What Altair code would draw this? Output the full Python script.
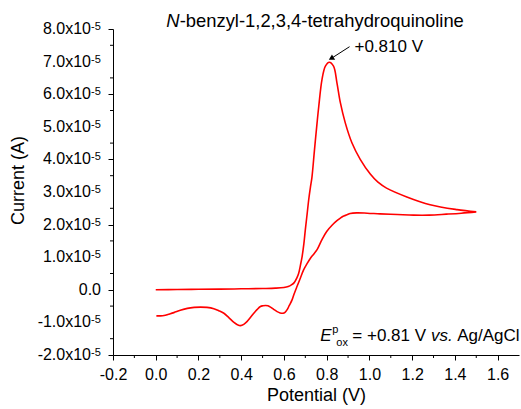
import altair as alt
import pandas as pd

# ---- cyclic voltammogram (V vs Ag/AgCl, current in units of 1e-5 A) ----
fwd_v = [0.00, 0.10, 0.20, 0.30, 0.40, 0.50, 0.56, 0.60, 0.62, 0.635, 0.648, 0.66, 0.669,
         0.677, 0.685, 0.693, 0.70, 0.708, 0.716, 0.724, 0.731, 0.743, 0.755, 0.763, 0.778,
         0.794, 0.812, 0.832, 0.848, 0.864, 0.887, 0.918, 0.957, 1.004, 1.04, 1.08, 1.175,
         1.284, 1.41, 1.50]
fwd_i = [0.00, 0.01, 0.015, 0.02, 0.03, 0.04, 0.05, 0.07, 0.10, 0.15, 0.22, 0.36, 0.51,
         0.75, 1.02, 1.40, 1.84, 2.30, 2.77, 3.15, 3.45, 4.30, 5.12, 5.63, 6.45,
         6.86, 6.98, 6.86, 6.35, 5.74, 5.12, 4.51, 4.00, 3.55, 3.30, 3.12, 2.85,
         2.61, 2.46, 2.39]
rev_v = [1.50, 1.43, 1.36, 1.28, 1.206, 1.13, 1.05, 0.99, 0.94, 0.91, 0.895, 0.875, 0.864,
         0.848, 0.825, 0.80, 0.778, 0.755, 0.74, 0.724, 0.708, 0.692, 0.677, 0.661, 0.648,
         0.638, 0.625, 0.615, 0.605, 0.596, 0.582, 0.568, 0.552, 0.537, 0.525, 0.514, 0.502,
         0.49, 0.475, 0.459, 0.443, 0.428, 0.412, 0.397, 0.382, 0.366, 0.343, 0.319, 0.295,
         0.272, 0.24, 0.21, 0.18, 0.148, 0.115, 0.085, 0.06, 0.039, 0.02, 0.003]
rev_i = [2.39, 2.35, 2.32, 2.29, 2.29, 2.31, 2.33, 2.35, 2.36, 2.34, 2.30, 2.25, 2.20,
         2.12, 1.98, 1.79, 1.54, 1.23, 1.10, 0.97, 0.80, 0.61, 0.36, 0.10, -0.12,
         -0.31, -0.48, -0.61, -0.69, -0.72, -0.71, -0.67, -0.60, -0.53, -0.49, -0.48, -0.49,
         -0.51, -0.60, -0.72, -0.85, -0.97, -1.06, -1.10, -1.07, -1.00, -0.86, -0.72, -0.64,
         -0.58, -0.54, -0.53, -0.54, -0.57, -0.63, -0.70, -0.75, -0.79, -0.80, -0.80]

# ---- axes ----
x_major = [-0.2, 0.0, 0.2, 0.4, 0.6, 0.8, 1.0, 1.2, 1.4, 1.6]
x_minor = [-0.1, 0.1, 0.3, 0.5, 0.7, 0.9, 1.1, 1.3, 1.5]
y_major = [-2, -1, 0, 1, 2, 3, 4, 5, 6, 7, 8]          # x 1e-5 A
y_minor = [-1.5, -0.5, 0.5, 1.5, 2.5, 3.5, 4.5, 5.5, 6.5, 7.5]
y_main_labels = ["-2.0x10", "-1.0x10", "0.0", "1.0x10", "2.0x10", "3.0x10",
                 "4.0x10", "5.0x10", "6.0x10", "7.0x10", "8.0x10"]
y_sup_labels = ["-5", "-5", "", "-5", "-5", "-5", "-5", "-5", "-5", "-5", "-5"]

# ---- annotations ----
title_main = "-benzyl-1,2,3,4-tetrahydroquinoline"
title_italic = "N"
peak_label = "+0.810 V"

FONT = "Liberation Sans"
W, H = 406, 326
E5 = 1e-5

xs = alt.Scale(domain=[-0.2, 1.7], nice=False, zero=False)
ys = alt.Scale(domain=[-2 * E5, 8 * E5], nice=False, zero=False)


def X(field):
    return alt.X(field, scale=xs)


def Y(field):
    return alt.Y(field, scale=ys)


cv = pd.DataFrame({
    "V": fwd_v + rev_v,
    "I": [i * E5 for i in fwd_i + rev_i],
    "k": list(range(len(fwd_v) + len(rev_v))),
})

line = alt.Chart(cv).mark_line(color="#ff0000", strokeWidth=1.6, interpolate="catmull-rom").encode(
    x=alt.X("V:Q", scale=xs, axis=alt.Axis(
        values=x_major,
        labelExpr="(datum.value < -1e-9 ? '-' : '') + format(abs(datum.value), '.1f')",
        labelFont=FONT, labelFontSize=16, labelColor="black", labelPadding=6,
        labelFlush=False, labelOverlap=False,
        tickSize=5, tickColor="black", tickWidth=1,
        domainColor="black", domainWidth=1, grid=False,
        title="Potential (V)", titleFont=FONT, titleFontSize=18,
        titleFontWeight="normal", titleColor="black", titlePadding=4)),
    y=alt.Y("I:Q", scale=ys, axis=alt.Axis(
        values=[v * E5 for v in y_major], labels=False,
        tickSize=5, tickColor="black", tickWidth=1,
        domainColor="black", domainWidth=1, grid=False,
        title="Current (A)", titleFont=FONT, titleFontSize=18,
        titleFontWeight="normal", titleColor="black", titlePadding=80, titleY=151)),
    order="k:Q",
)

xminor = alt.Chart(pd.DataFrame({"V": x_minor})).mark_rule(color="black", strokeWidth=1).encode(
    x=X("V:Q"), y=alt.value(H), y2=alt.value(H + 3))
yminor = alt.Chart(pd.DataFrame({"I": [v * E5 for v in y_minor]})).mark_rule(color="black", strokeWidth=1).encode(
    y=Y("I:Q"), x=alt.value(0), x2=alt.value(-3))

ylab = pd.DataFrame({"I": [v * E5 for v in y_major], "main": y_main_labels, "sup": y_sup_labels})
ylab_main = alt.Chart(ylab).transform_filter("datum.sup != ''").mark_text(
    font=FONT, fontSize=16, align="right", baseline="middle", color="black").encode(
    y=Y("I:Q"), x=alt.value(-22), text="main:N")
ylab_zero = alt.Chart(ylab).transform_filter("datum.sup == ''").mark_text(
    font=FONT, fontSize=16, align="right", baseline="middle", color="black").encode(
    y=Y("I:Q"), x=alt.value(-12), text="main:N")
ylab_sup = alt.Chart(ylab).transform_filter("datum.sup != ''").mark_text(
    font=FONT, fontSize=11, align="left", baseline="alphabetic", color="black", dy=1).encode(
    y=Y("I:Q"), x=alt.value(-22), text="sup:N")

# title (italic N + rest)
tdf = pd.DataFrame({"V": [0.0496], "I": [8.07 * E5], "a": [title_italic], "b": [title_main]})
t_n = alt.Chart(tdf).mark_text(font=FONT, fontSize=18.4, fontStyle="italic", align="left",
                               baseline="alphabetic", color="black").encode(
    x=X("V:Q"), y=Y("I:Q"), text="a:N")
t_rest = alt.Chart(tdf).mark_text(font=FONT, fontSize=18.4, align="left", baseline="alphabetic",
                                  color="black", dx=13.3).encode(
    x=X("V:Q"), y=Y("I:Q"), text="b:N")

# peak annotation
pdf = pd.DataFrame({"V": [0.930], "I": [7.30 * E5], "t": [peak_label]})
p_txt = alt.Chart(pdf).mark_text(font=FONT, fontSize=17, align="left", baseline="alphabetic",
                                 color="black").encode(
    x=X("V:Q"), y=Y("I:Q"), text="t:N")
adf = pd.DataFrame({"V": [0.907], "I": [7.457 * E5], "V2": [0.821], "I2": [7.095 * E5]})
a_rule = alt.Chart(adf).mark_rule(color="black", strokeWidth=1).encode(
    x=X("V:Q"), y=Y("I:Q"), x2="V2:Q", y2="I2:Q")
a_head = alt.Chart(adf).mark_point(shape="triangle-up", filled=True, color="black", opacity=1,
                                   size=40, angle=240).encode(
    x=X("V2:Q"), y=Y("I2:Q"))

# E^p_ox = +0.81 V vs. Ag/AgCl
edf = pd.DataFrame({
    "V": [0.770, 0.826, 0.845, 0.920, 1.288, 1.411],
    "I": [-1.57 * E5, -1.33 * E5, -1.72 * E5, -1.57 * E5, -1.57 * E5, -1.57 * E5],
    "t": ["E", "p", "ox", "= +0.81 V", "vs.", "Ag/AgCl"],
    "fs": [17, 11, 11, 17, 17, 17],
    "st": ["italic", "normal", "normal", "normal", "italic", "normal"],
})
e_parts = []
for idx in range(len(edf)):
    row = edf.iloc[[idx]]
    e_parts.append(alt.Chart(row).mark_text(
        font=FONT, fontSize=int(row["fs"].iloc[0]), fontStyle=row["st"].iloc[0],
        align="left", baseline="alphabetic", color="black").encode(
        x=X("V:Q"), y=Y("I:Q"), text="t:N"))

chart = alt.layer(line, xminor, yminor, ylab_main, ylab_zero, ylab_sup, t_n, t_rest,
                  p_txt, a_rule, a_head, *e_parts).properties(
    width=W, height=H,
    padding={"left": 113, "top": 29, "right": 2, "bottom": 54},
    autosize=alt.AutoSizeParams(type="none"),
    background="white",
).configure_view(stroke=None)

chart.save("out.html", embed_options={"renderer": "svg", "actions": False})
